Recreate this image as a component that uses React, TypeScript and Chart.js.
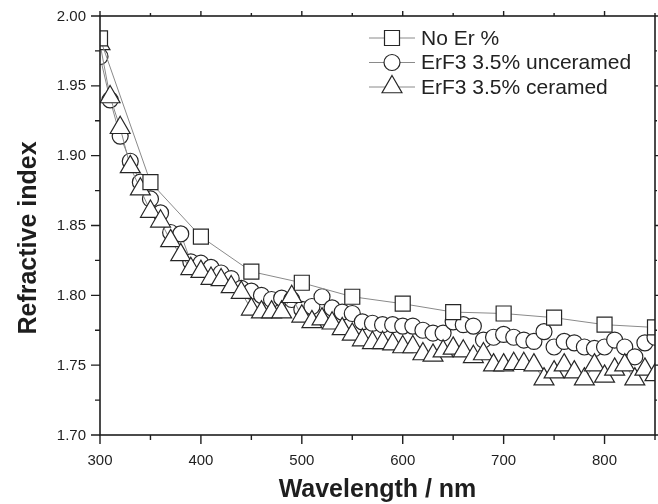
import React, { useEffect, useRef } from 'react';
import { Chart, registerables } from 'chart.js';

Chart.register(...registerables);

// ---- data ----
const wavelengths = [
  300, 310, 320, 330, 340, 350, 360, 370, 380, 390,
  400, 410, 420, 430, 440, 450, 460, 470, 480, 490,
  500, 510, 520, 530, 540, 550, 560, 570, 580, 590,
  600, 610, 620, 630, 640, 650, 660, 670, 680, 690,
  700, 710, 720, 730, 740, 750, 760, 770, 780, 790,
  800, 810, 820, 830, 840, 850,
];

const noErWavelengths = [300, 350, 400, 450, 500, 550, 600, 650, 700, 750, 800, 850];
const noErValues = [1.984, 1.881, 1.842, 1.817, 1.809, 1.799, 1.794, 1.788, 1.787, 1.784, 1.779, 1.777];

const unceramedValues = [
  1.971, 1.94, 1.914, 1.896, 1.881, 1.869, 1.859, 1.845, 1.844, 1.824,
  1.823, 1.82, 1.816, 1.812, 1.805, 1.803, 1.8, 1.797, 1.798, 1.797,
  1.79, 1.792, 1.799, 1.791, 1.788, 1.787, 1.781, 1.78, 1.779, 1.779,
  1.778, 1.778, 1.775, 1.773, 1.773, 1.781, 1.779, 1.778, 1.768, 1.77,
  1.772, 1.77, 1.768, 1.767, 1.774, 1.763, 1.767, 1.766, 1.763, 1.762,
  1.763, 1.768, 1.763, 1.756, 1.766, 1.77,
];

const ceramedValues = [
  1.98, 1.942, 1.92, 1.892, 1.876, 1.86, 1.853, 1.839, 1.829, 1.819,
  1.817, 1.812, 1.811, 1.806, 1.802, 1.79, 1.788, 1.788, 1.788, 1.799,
  1.785, 1.781, 1.783, 1.78, 1.776, 1.772, 1.768, 1.766, 1.766, 1.765,
  1.763, 1.763, 1.758, 1.757, 1.76, 1.762, 1.76, 1.756, 1.758, 1.75,
  1.75, 1.751, 1.751, 1.75, 1.74, 1.745, 1.75, 1.745, 1.74, 1.75,
  1.742, 1.747, 1.75, 1.74, 1.747, 1.743,
];

const seriesNames = ['No Er %', 'ErF3 3.5% unceramed', 'ErF3 3.5% ceramed'];
const seriesMarkers = ['rect', 'circle', 'triangle'];

const xMin = 300;
const xMax = 850;
const xStep = 50;
const xLabelEvery = 100;
const xLastLabel = 800;
const yMin = 1.7;
const yMax = 2.0;
const yStep = 0.025;
const xTitle = 'Wavelength / nm';
const yTitle = 'Refractive index';

// ---- styles ----
const FONT = '"Liberation Sans", Arial, Helvetica, sans-serif';
const AXIS_COLOR = '#1e1e1e';
const MARKER_STROKE = '#262626';
const LINE_COLOR = '#8a8a8a';
const markerRadius: Record<string, number> = { rect: 10.6, circle: 8, triangle: 11.5 };

function xLabel(v: number): string {
  const n = Math.round(v);
  return n % xLabelEvery === 0 && n <= xLastLabel ? String(n) : '';
}
function yLabel(v: number): string {
  const k = Math.round(v * 1000);
  return k % 50 === 0 ? (k / 1000).toFixed(2) : '';
}

function drawMarker(ctx: CanvasRenderingContext2D, style: string, x: number, y: number) {
  const r = markerRadius[style];
  ctx.beginPath();
  if (style === 'rect') {
    const s = r * Math.SQRT1_2;
    ctx.rect(x - s, y - s, 2 * s, 2 * s);
  } else if (style === 'circle') {
    ctx.arc(x, y, r, 0, Math.PI * 2);
  } else {
    const w = r * Math.sin((2 * Math.PI) / 3);
    ctx.moveTo(x, y - r);
    ctx.lineTo(x + w, y + r / 2);
    ctx.lineTo(x - w, y + r / 2);
    ctx.closePath();
  }
  ctx.fillStyle = '#ffffff';
  ctx.fill();
  ctx.lineWidth = 1.2;
  ctx.strokeStyle = MARKER_STROKE;
  ctx.stroke();
}

const decorPlugin = {
  id: 'decor',
  afterDraw(chart: any) {
    const ctx: CanvasRenderingContext2D = chart.ctx;
    const { left, right, top, bottom } = chart.chartArea;
    const xs = chart.scales.x;
    const ys = chart.scales.y;
    ctx.save();
    // frame
    ctx.strokeStyle = AXIS_COLOR;
    ctx.lineWidth = 1.6;
    ctx.strokeRect(left, top, right - left, bottom - top);
    // ticks
    ctx.lineWidth = 1.4;
    ctx.beginPath();
    xs.ticks.forEach((t: any) => {
      const px = xs.getPixelForValue(t.value);
      const major = Math.round(t.value) % 100 === 0;
      const len = major ? 9 : 5;
      ctx.moveTo(px, bottom);
      ctx.lineTo(px, bottom + len);
      ctx.moveTo(px, top);
      ctx.lineTo(px, top - (major ? 5 : 3));
    });
    ys.ticks.forEach((t: any) => {
      const py = ys.getPixelForValue(t.value);
      const major = Math.round(t.value * 1000) % 50 === 0;
      const len = major ? 9 : 5;
      ctx.moveTo(left, py);
      ctx.lineTo(left - len, py);
      ctx.moveTo(right, py);
      ctx.lineTo(right + (major ? 3 : 2), py);
    });
    ctx.stroke();

    // tick labels
    ctx.fillStyle = '#1e1e1e';
    ctx.font = `15px ${FONT}`;
    ctx.textBaseline = 'middle';
    ctx.textAlign = 'center';
    xs.ticks.forEach((t: any) => {
      const s = xLabel(t.value);
      if (s) ctx.fillText(s, xs.getPixelForValue(t.value), 461);
    });
    ctx.textAlign = 'right';
    ys.ticks.forEach((t: any) => {
      const s = yLabel(t.value);
      if (s) ctx.fillText(s, left - 14, ys.getPixelForValue(t.value) + 0.5);
    });

    // axis titles
    ctx.font = `bold 25px ${FONT}`;
    ctx.textAlign = 'center';
    ctx.textBaseline = 'middle';
    ctx.fillText(xTitle, (left + right) / 2, 490);
    ctx.save();
    ctx.translate(29, 238);
    ctx.rotate(-Math.PI / 2);
    ctx.fillText(yTitle, 0, 0);
    ctx.restore();

    // legend
    const rowsY = [38, 62.5, 87];
    ctx.font = `21px ${FONT}`;
    ctx.textAlign = 'left';
    seriesNames.forEach((name, i) => {
      const y = rowsY[i];
      ctx.beginPath();
      ctx.strokeStyle = LINE_COLOR;
      ctx.lineWidth = 1;
      ctx.moveTo(369, y);
      ctx.lineTo(415, y);
      ctx.stroke();
      drawMarker(ctx, seriesMarkers[i], 392, y);
      ctx.fillStyle = '#222222';
      ctx.fillText(name, 421, y + 1);
    });
    ctx.restore();
  },
};

export default function App() {
  const canvasRef = useRef<HTMLCanvasElement | null>(null);

  useEffect(() => {
    const canvas = canvasRef.current;
    if (!canvas) return;
    const common = {
      borderColor: LINE_COLOR,
      borderWidth: 1,
      pointBackgroundColor: '#ffffff',
      pointBorderColor: MARKER_STROKE,
      pointBorderWidth: 1.2,
      showLine: true,
      tension: 0,
      clip: 0,
    };
    const chart = new Chart(canvas, {
      type: 'scatter',
      data: {
        datasets: [
          {
            ...common,
            label: seriesNames[0],
            data: noErWavelengths.map((x, i) => ({ x, y: noErValues[i] })),
            pointStyle: 'rect',
            pointRadius: markerRadius.rect,
            order: 0,
          },
          {
            ...common,
            label: seriesNames[1],
            data: wavelengths.map((x, i) => ({ x, y: unceramedValues[i] })),
            pointStyle: 'circle',
            pointRadius: markerRadius.circle,
            order: 2,
          },
          {
            ...common,
            label: seriesNames[2],
            data: wavelengths.map((x, i) => ({ x, y: ceramedValues[i] })),
            pointStyle: 'triangle',
            pointRadius: markerRadius.triangle,
            order: 1,
          },
        ],
      },
      options: {
        responsive: false,
        animation: false,
        layout: { autoPadding: false, padding: { top: 16, right: 3, left: 0, bottom: 0 } },
        plugins: {
          legend: { display: false },
          tooltip: { enabled: false },
        },
        scales: {
          x: {
            type: 'linear',
            min: xMin,
            max: xMax,
            grid: { display: false },
            border: { display: false },
            ticks: { display: false, stepSize: xStep, autoSkip: false },
            afterFit: (s: any) => {
              s.height = 69;
            },
          },
          y: {
            type: 'linear',
            min: yMin,
            max: yMax,
            grid: { display: false },
            border: { display: false },
            ticks: { display: false, stepSize: yStep, autoSkip: false },
            afterFit: (s: any) => {
              s.width = 100;
            },
          },
        },
      },
      plugins: [decorPlugin],
    });
    return () => chart.destroy();
  }, []);

  return (
    <div style={{ position: 'fixed', left: 0, top: 0, width: 658, height: 504, background: '#ffffff' }}>
      <canvas ref={canvasRef} width={658} height={504} style={{ display: 'block' }} />
    </div>
  );
}
